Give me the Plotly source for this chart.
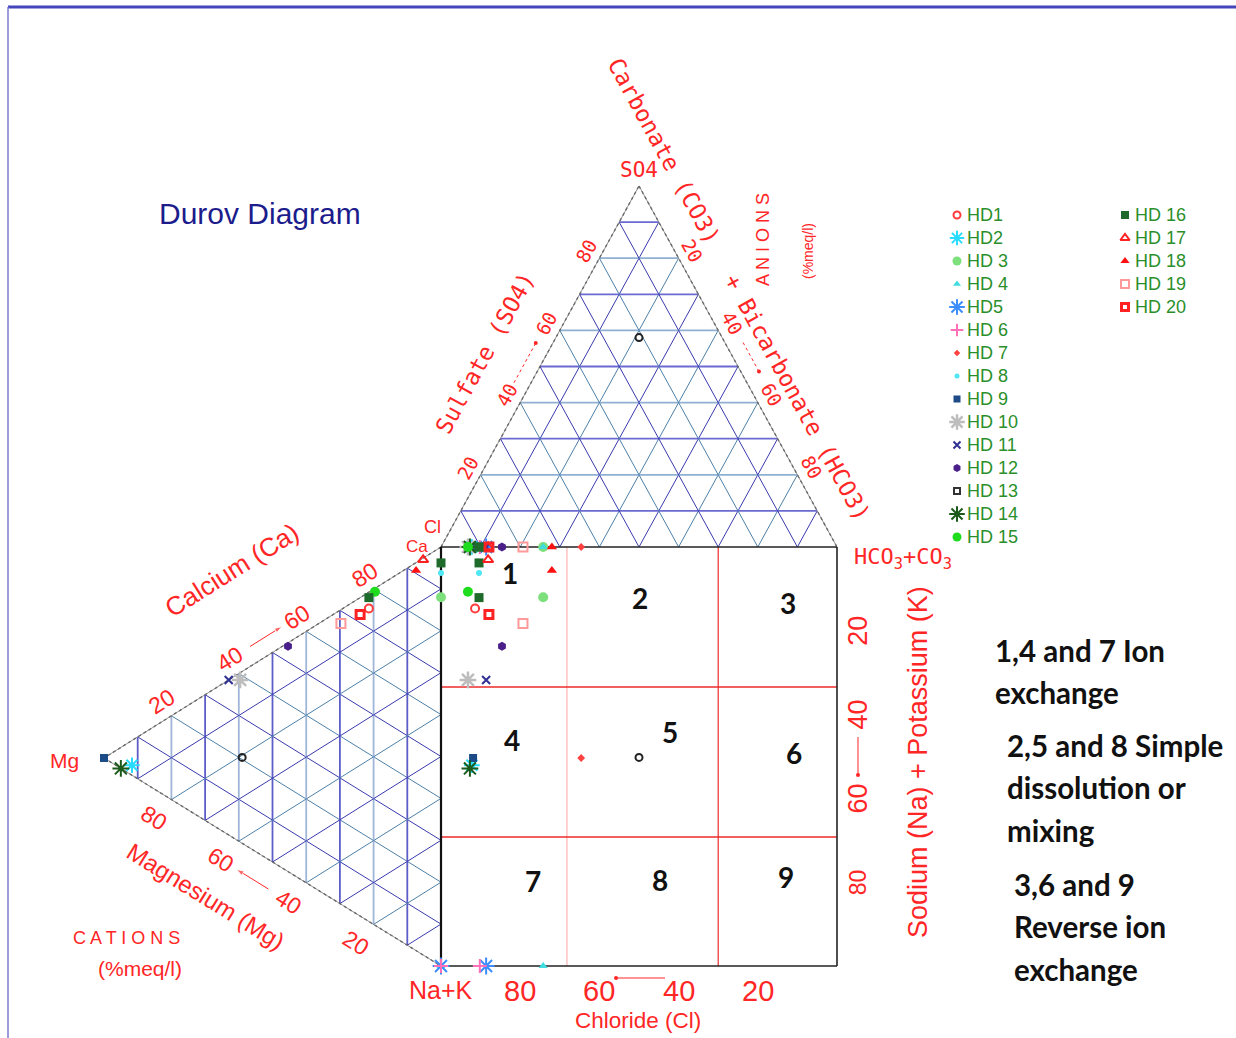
import numpy as np
import plotly.graph_objects as go

# ---------------- sample chemistry (% meq/l) ----------------
samples = ["HD1", "HD2", "HD 3", "HD 4", "HD5", "HD 6", "HD 7", "HD 8", "HD 9", "HD 10",
           "HD 11", "HD 12", "HD 13", "HD 14", "HD 15", "HD 16", "HD 17", "HD 18", "HD 19", "HD 20",
           "HD 16"]
ca   = [74.7, 2.4, 88.0, 0.0, 0.0, 0.0, 0.0, 93.8, 0.0, 38.7,
        37.0, 53.8, 20.5, 0.0, 79.6, 96.2, 94.3, 90.7, 67.0, 72.0, 77.3]
mg   = [21.4, 91.7, 0.0, 0.0, 0.0, 0.0, 100.0, 0.0, 100.0, 59.6,
        63.0, 45.4, 59.0, 95.0, 19.6, 0.0, 5.3, 7.4, 29.7, 24.0, 21.4]
nak  = [3.9, 5.9, 12.0, 100.0, 100.0, 100.0, 0.0, 6.2, 0.0, 1.7,
        0.0, 0.8, 20.5, 5.0, 0.8, 3.8, 0.4, 1.9, 3.3, 4.0, 1.3]
hco3 = [8.6, 7.8, 25.8, 25.8, 11.4, 9.8, 35.4, 9.6, 8.1, 6.8,
        11.4, 15.4, 21.0, 7.3, 6.8, 9.6, 11.9, 28.0, 20.7, 12.1, 9.6]
so4  = [0.0, 0.0, 0.0, 0.0, 0.0, 0.0, 0.0, 0.0, 0.0, 0.0,
        0.0, 0.0, 58.0, 0.0, 0.0, 0.0, 0.0, 0.0, 0.0, 0.0, 0.0]
cl   = [91.4, 92.2, 74.2, 74.2, 88.6, 90.2, 64.6, 90.4, 91.9, 93.2,
        88.6, 84.6, 21.0, 92.7, 93.2, 90.4, 88.1, 72.0, 79.3, 87.9, 90.4]

tick_vals = [20, 40, 60, 80]
field_ids = ["1", "2", "3", "4", "5", "6", "7", "8", "9"]
# field boundaries inside the square (Cl % and Na+K %)
cl_bounds = [68.2, 30.0]
nak_bounds = [33.4, 69.2]

notes = [["1,4 and 7 Ion", "exchange"],
         ["2,5 and 8 Simple", "dissolution or", "mixing"],
         ["3,6 and 9", "Reverse ion", "exchange"]]

# ---------------- marker styles ----------------
styles = [
    dict(symbol="circle-open", color="#ff3b3b", size=8, line=dict(width=2, color="#ff3b3b")),
    dict(symbol="asterisk-open", color="#27dcff", size=13, line=dict(width=2, color="#27dcff")),
    dict(symbol="circle", color="#7de07d", size=10),
    dict(symbol="triangle-up", color="#40dce0", size=8),
    dict(symbol="asterisk-open", color="#3a8cff", size=14, line=dict(width=2, color="#3a8cff")),
    dict(symbol="cross-thin-open", color="#ff70b8", size=10, line=dict(width=2, color="#ff70b8")),
    dict(symbol="diamond", color="#ff4040", size=6),
    dict(symbol="circle", color="#4fe6f6", size=6),
    dict(symbol="square", color="#1d4b88", size=8),
    dict(symbol="asterisk-open", color="#bdbdbd", size=14, line=dict(width=2.5, color="#bdbdbd")),
    dict(symbol="x-thin-open", color="#303094", size=8, line=dict(width=2, color="#303094")),
    dict(symbol="hexagon", color="#4a1f8a", size=9),
    dict(symbol="circle-open", color="#222222", size=7, line=dict(width=2, color="#222222")),
    dict(symbol="asterisk-open", color="#1b5a1b", size=14, line=dict(width=2, color="#1b5a1b")),
    dict(symbol="circle", color="#1fdc1f", size=10),
    dict(symbol="square", color="#1d6a2b", size=9),
    dict(symbol="triangle-up-open", color="#ff2020", size=9, line=dict(width=2, color="#ff2020")),
    dict(symbol="triangle-up", color="#ff1010", size=9),
    dict(symbol="square-open", color="#ff9a9a", size=9, line=dict(width=2, color="#ff9a9a")),
    dict(symbol="square-open", color="#ff2222", size=8, line=dict(width=3, color="#ff2222")),
    dict(symbol="square", color="#1d6a2b", size=9),
]
legend_symbols = list(styles[:12]) + [dict(symbol="square-open", color="#333333", size=7,
                                           line=dict(width=2, color="#333333"))] + list(styles[13:20])

# ---------------- geometry (page pixels) ----------------
W, H = 1236, 1038
SX0, SX1, SY0, SY1 = 441.0, 837.0, 547.0, 966.0            # square
A_HC, A_SO, A_CL = np.array([837., 547.]), np.array([639., 186.]), np.array([441., 547.])
C_CA, C_MG, C_NA = np.array([441., 547.]), np.array([104., 758.]), np.array([441., 966.])

RED = "#ff2626"
SANS = "Liberation Sans"
MONO = "DejaVu Sans Mono"


def bary(verts, fr):
    fr = np.asarray(fr, float)
    fr = fr / fr.sum()
    return fr[0] * verts[0] + fr[1] * verts[1] + fr[2] * verts[2]


fig = go.Figure()


def add_lines(segs, color, width, dash="solid"):
    xs, ys = [], []
    for p, q in segs:
        xs += [p[0], q[0], None]
        ys += [p[1], q[1], None]
    fig.add_trace(go.Scatter(x=xs, y=ys, mode="lines", hoverinfo="skip", showlegend=False,
                             line=dict(color=color, width=width, dash=dash)))


def tri_grid(V, fam_colors):
    for k in range(3):
        i, j = [m for m in range(3) if m != k]
        odd, even = [], []
        for n in range(1, 10):
            t = n / 10
            p1 = t * V[k] + (1 - t) * V[i]
            p2 = t * V[k] + (1 - t) * V[j]
            (odd if n % 2 else even).append((p1, p2))
        c_odd, c_even, w = fam_colors[k]
        add_lines(odd, c_odd, w)
        add_lines(even, c_even, w)


# anion triangle grid: families HCO3, SO4 (horizontal), Cl
tri_grid([A_HC, A_SO, A_CL], [("#3a3aae", "#4d80a8", 1.0),
                              ("#6a6ad2", "#8fb0d2", 1.8),
                              ("#3a3aae", "#4d80a8", 1.0)])
# cation triangle grid: families Ca, Mg (vertical), Na+K
tri_grid([C_CA, C_MG, C_NA], [("#3a3aae", "#4d80a8", 1.0),
                              ("#5d5dc8", "#9fb6d8", 1.8),
                              ("#3a3aae", "#4d80a8", 1.0)])

# triangle outlines
add_lines([(A_CL, A_SO), (A_SO, A_HC)], "#505050", 1.3, "dot")
add_lines([(C_CA, C_MG), (C_MG, C_NA)], "#505050", 1.3, "dot")
add_lines([(A_CL, A_SO), (A_SO, A_HC)], "#777777", 0.8)
add_lines([(C_CA, C_MG), (C_MG, C_NA)], "#777777", 0.8)

# field boundaries in the square
xb = [SX0 + (100 - v) / 100 * (SX1 - SX0) for v in cl_bounds]
yb = [SY0 + v / 100 * (SY1 - SY0) for v in nak_bounds]
add_lines([((xb[0], SY0), (xb[0], SY1))], "#ffb4b4", 1.2)
add_lines([((xb[1], SY0), (xb[1], SY1))], "#ee2a2a", 1.2)
add_lines([((SX0, y), (SX1, y)) for y in yb], "#ee2a2a", 1.5)

# square outline
add_lines([((SX0, SY0), (SX1, SY0)), ((SX1, SY0), (SX1, SY1)), ((SX1, SY1), (SX0, SY1))], "#222222", 1.6)
add_lines([((SX0, SY0), (SX0, SY1))], "#111111", 2.2)

# ---------------- samples: anion, cation and projected square points ----------------
for idx in range(len(samples)):
    pa = bary([A_HC, A_SO, A_CL], [hco3[idx], so4[idx], cl[idx]])
    pc = bary([C_CA, C_MG, C_NA], [ca[idx], mg[idx], nak[idx]])
    ps = (pa[0], pc[1])
    st = styles[idx]
    fig.add_trace(go.Scatter(x=[pa[0], pc[0], ps[0]], y=[pa[1], pc[1], ps[1]], mode="markers",
                             name=samples[idx], showlegend=False, marker=st))

# ---------------- legend (two columns) ----------------
ann = []
for i, name in enumerate(samples[:20]):
    col, row = (0, i) if i < 15 else (1, i - 15)
    lx = 957 if col == 0 else 1125
    ly = 215 + row * 23.0
    fig.add_trace(go.Scatter(x=[lx], y=[ly], mode="markers", showlegend=False, hoverinfo="skip",
                             marker=dict(legend_symbols[i], size=max(5, legend_symbols[i]["size"] - 1))))
    ann.append(dict(x=lx + 8, y=ly, text=name, showarrow=False, xanchor="left", yanchor="middle",
                    font=dict(family=SANS, size=18, color="#2a8f2a")))


def label(x, y, text, size, color=RED, family=SANS, angle=0, **kw):
    d = dict(x=x, y=y, text=text, showarrow=False, textangle=angle, xanchor="center",
             yanchor="middle", font=dict(family=family, size=size, color=color))
    d.update(kw)
    ann.append(d)


def edge_pt(P, Q, t, off):
    d = Q - P
    n = np.array([d[1], -d[0]]) / np.hypot(*d)
    return P + t * d + off * n


# anion triangle labels
ang_r = np.degrees(np.arctan2(A_HC[1] - A_SO[1], A_HC[0] - A_SO[0]))
ang_l = np.degrees(np.arctan2(A_SO[1] - A_CL[1], A_SO[0] - A_CL[0]))
for v in tick_vals:
    p = edge_pt(A_CL, A_SO, v / 100, 15)
    label(p[0], p[1], str(v), 19, family=MONO, angle=ang_l)
    p = edge_pt(A_SO, A_HC, v / 100, 16)
    label(p[0], p[1], str(v), 19, family=MONO, angle=ang_r)
label(485, 353, "Sulfate (SO4)", 23, family=MONO, angle=ang_l)
label(664, 151, "Carbonate (CO3)", 23, family=MONO, angle=ang_r)
label(797, 397, "+ Bicarbonate (HCO3)", 23, family=MONO, angle=ang_r)
label(639, 170, "SO4", 21, family=MONO)
label(763, 240, "A N I O N S", 18, angle=-90)
label(808, 251, "(%meq/l)", 14, angle=-90)
label(432, 527, "Cl", 18)
label(417, 546, "Ca", 17)
label(903, 558, "HCO<sub>3</sub>+CO<sub>3</sub>", 22, family=MONO)

# cation triangle labels
ang_ca = np.degrees(np.arctan2(C_CA[1] - C_MG[1], C_CA[0] - C_MG[0]))
ang_mg = np.degrees(np.arctan2(C_NA[1] - C_MG[1], C_NA[0] - C_MG[0]))
for v in tick_vals:
    p = edge_pt(C_MG, C_CA, v / 100, 17)
    label(p[0], p[1], str(v), 23, angle=ang_ca)
    p = edge_pt(C_NA, C_MG, v / 100, 22)
    label(p[0] - 6, p[1], str(v), 23, angle=ang_mg)
label(232, 570, "Calcium (Ca)", 26, angle=ang_ca)
label(206, 896, "Magnesium (Mg)", 24, angle=ang_mg)
label(64, 760, "Mg", 21)
label(126, 938, "C A T I O N S", 18)
label(140, 968, "(%meq/l)", 21)
label(441, 990, "Na+K", 25)

# square axis labels
for v in tick_vals:
    label(SX0 + (100 - v) / 100 * (SX1 - SX0), 991, str(v), 29)
    label(858, SY0 + v / 100 * (SY1 - SY0), str(v), 27 if v < 80 else 23, angle=-90)
label(638, 1020, "Chloride (Cl)", 22.5)
label(918, 762, "Sodium (Na) + Potassium (K)", 27, angle=-90)

# field numbers
field_pos = [(510, 573), (640, 598), (788, 603), (512, 740), (670, 732), (794, 753),
             (533, 881), (660, 880), (786, 877)]
for fid, (fx, fy) in zip(field_ids, field_pos):
    label(fx, fy, "<b>%s</b>" % fid, 28, color="#111111", family="Lato")

# explanatory notes
note_pos = [(993, 650), (1005, 745), (1012, 884)]
for lines, (nx, ny) in zip(notes, note_pos):
    for k, t in enumerate(lines):
        label(nx, ny + 42.5 * k, "<b>%s</b>" % t, 29.5, color="#111111", family="Lato", xanchor="left")

label(157, 213, "Durov Diagram", 30, color="#1c1c8c", xanchor="left")

# small direction arrows beside the scales
shapes = []


def seg(p, q, color=RED, width=1, dash="solid"):
    shapes.append(dict(type="line", xref="x", yref="y", x0=p[0], y0=p[1], x1=q[0], y1=q[1],
                       line=dict(color=color, width=width, dash=dash)))


def arrow(p, q):
    fig.add_trace(go.Scatter(x=[p[0], q[0]], y=[p[1], q[1]], mode="lines+markers", hoverinfo="skip",
                             showlegend=False, line=dict(color=RED, width=1),
                             marker=dict(symbol=["circle", "arrow"], size=[0, 8], color=RED,
                                         angleref="previous")))


dots_x, dots_y = [], []
p, q = edge_pt(A_CL, A_SO, 0.435, 15), edge_pt(A_CL, A_SO, 0.545, 15)
seg(p, q, dash="dot"); dots_x.append(q[0]); dots_y.append(q[1])
p, q = edge_pt(A_SO, A_HC, 0.455, 16), edge_pt(A_SO, A_HC, 0.535, 16)
seg(p, q, dash="dot"); dots_x.append(q[0]); dots_y.append(q[1])
arrow(edge_pt(C_MG, C_CA, 0.46, 17), edge_pt(C_MG, C_CA, 0.555, 17))
p, q = edge_pt(C_NA, C_MG, 0.46, 22), edge_pt(C_NA, C_MG, 0.555, 22)
arrow((p[0] - 6, p[1]), (q[0] - 6, q[1]))
seg((616, 978), (665, 978)); dots_x.append(616); dots_y.append(978)
seg((858, 737), (858, 775)); dots_x.append(858); dots_y.append(775)
fig.add_trace(go.Scatter(x=dots_x, y=dots_y, mode="markers", hoverinfo="skip", showlegend=False,
                         marker=dict(color=RED, size=4)))

# page frame
shapes.append(dict(type="line", xref="x", yref="y", x0=8, y0=7, x1=W, y1=7,
                   line=dict(color="#4444bb", width=3)))
shapes.append(dict(type="line", xref="x", yref="y", x0=8, y0=7, x1=8, y1=H,
                   line=dict(color="#7c7cd0", width=1.5)))

for a in ann:
    fig.add_annotation(**a)

fig.update_layout(
    width=W, height=H, margin=dict(l=0, r=0, t=0, b=0),
    paper_bgcolor="white", plot_bgcolor="white", shapes=shapes,
    xaxis=dict(range=[0, W], visible=False, fixedrange=True),
    yaxis=dict(range=[H, 0], visible=False, fixedrange=True),
    showlegend=False,
)

fig.write_html("out.html")
